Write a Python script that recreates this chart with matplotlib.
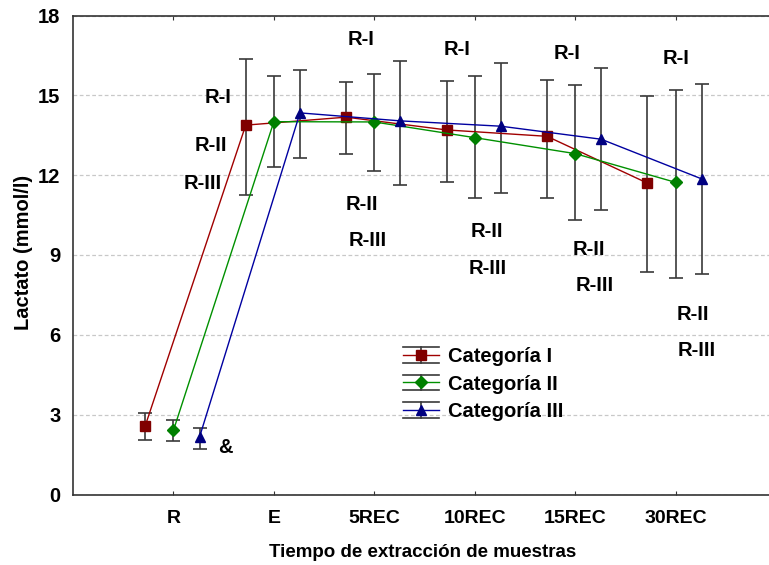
import matplotlib
matplotlib.use("Agg")
import matplotlib.pyplot as plt
import numpy as np
from matplotlib.lines import Line2D
from matplotlib.legend_handler import HandlerBase

plt.rcParams['font.family'] = ['Liberation Sans', 'DejaVu Sans']
plt.rcParams['font.weight'] = 'bold'

categories = ["R", "E", "5REC", "10REC", "15REC", "30REC"]
series_names = ["Categoría I", "Categoría II", "Categoría III"]

cat1_mean = [2.59, 13.88, 14.18, 13.70, 13.46, 11.70]
cat1_low = [2.06, 11.24, 12.78, 11.76, 11.16, 8.35]
cat1_high = [3.08, 16.37, 15.50, 15.53, 15.57, 14.98]

cat2_mean = [2.41, 14.01, 14.00, 13.41, 12.81, 11.73]
cat2_low = [2.02, 12.31, 12.16, 11.14, 10.32, 8.15]
cat2_high = [2.80, 15.71, 15.79, 15.74, 15.39, 15.20]

cat3_mean = [2.16, 14.34, 14.04, 13.84, 13.35, 11.86]
cat3_low = [1.71, 12.63, 11.63, 11.33, 10.70, 8.30]
cat3_high = [2.50, 15.94, 16.30, 16.21, 16.01, 15.42]

# annotation texts (label, x, y in data coords)
annot_text = ["R-I", "R-II", "R-III",
              "R-I", "R-II", "R-III",
              "R-I", "R-II", "R-III",
              "R-I", "R-II", "R-III",
              "R-I", "R-II", "R-III", "&"]
annot_x = [1.44, 1.37, 1.29,
           2.87, 2.88, 2.93,
           3.82, 4.12, 4.13,
           4.92, 5.14, 5.19,
           6.00, 6.17, 6.21, 1.52]
annot_y = [14.9, 13.1, 11.7,
           17.08, 10.88, 9.56,
           16.74, 9.9, 8.51,
           16.59, 9.19, 7.87,
           16.37, 6.78, 5.43, 1.75]

offsets = [-0.28, 0.0, 0.26]
markers = ['s', 'D', '^']
line_colors = ['#a00000', '#009000', '#0000a0']
marker_colors = ['#800000', '#008000', '#000080']
marker_sizes = [7, 6.5, 7.5]
err_color = '#3a3a3a'

W, H = 769, 565
fig = plt.figure(figsize=(W / 100, H / 100), dpi=100)
ax = fig.add_axes([73 / W, 1 - 494.5 / H, 703 / W, (494.5 - 15.5) / H])

x = np.arange(1, len(categories) + 1)
means = [cat1_mean, cat2_mean, cat3_mean]
lows = [cat1_low, cat2_low, cat3_low]
highs = [cat1_high, cat2_high, cat3_high]

handles = []
for i in range(3):
    m = np.array(means[i]); lo = np.array(lows[i]); hi = np.array(highs[i])
    yerr = np.vstack([m - lo, hi - m])
    ax.errorbar(x + offsets[i], m, yerr=yerr, fmt='none', ecolor=err_color,
                elinewidth=1.2, capsize=5, capthick=1.2, zorder=3)
    ln, = ax.plot(x + offsets[i], m, color=line_colors[i], lw=1.0,
                  marker=markers[i], ms=marker_sizes[i], mfc=marker_colors[i],
                  mec=marker_colors[i], zorder=4, label=series_names[i])
    handles.append(ln)

for t, tx, ty in zip(annot_text, annot_x, annot_y):
    ax.text(tx, ty, t, ha='center', va='center', fontsize=14.5, fontweight='bold')

ax.set_xlim(0, 7)
ax.set_ylim(0, 18)
ax.set_xticks(x)
ax.set_xticklabels(categories)
ax.set_yticks([0, 3, 6, 9, 12, 15, 18])
ax.tick_params(axis='x', direction='in', length=3, top=True, pad=11,
               labelsize=14, color='#333333')
ax.tick_params(axis='y', direction='in', length=0, pad=9, labelsize=14.5)
for lab in ax.get_xticklabels() + ax.get_yticklabels():
    lab.set_fontweight('bold')

ax.yaxis.grid(True, linestyle=(0, (3, 2)), color='#c8c8c8', lw=0.9)
ax.set_axisbelow(True)
ax.spines['right'].set_visible(False)
for s in ['left', 'bottom', 'top']:
    ax.spines[s].set_color('#333333')
    ax.spines[s].set_linewidth(1.2)

ax.set_ylabel("Lactato (mmol/l)", fontsize=14.5, fontweight='bold')
ax.yaxis.set_label_coords(-(73 - 33) / 703, 0.505)
ax.set_xlabel("Tiempo de extracción de muestras", fontsize=13.5, fontweight='bold')
ax.xaxis.set_label_coords((423 - 73) / 703, -(544 - 494.5) / 479)


class ErrHandler(HandlerBase):
    def create_artists(self, legend, orig_handle, xdescent, ydescent, width,
                       height, fontsize, trans):
        x0 = -xdescent
        x1 = width - xdescent
        cy = height / 2 - ydescent
        xm = (x0 + x1) / 2
        d = 5.5
        arts = [Line2D([x0, x1], [cy, cy], color=orig_handle.get_color(), lw=1.0),
                Line2D([xm, xm], [cy - d, cy + d], color=err_color, lw=1.2),
                Line2D([x0, x1], [cy - d, cy - d], color=err_color, lw=1.2),
                Line2D([x0, x1], [cy + d, cy + d], color=err_color, lw=1.2),
                Line2D([xm], [cy], marker=orig_handle.get_marker(),
                       ms=orig_handle.get_markersize(),
                       mfc=orig_handle.get_markerfacecolor(),
                       mec=orig_handle.get_markeredgecolor(), ls='none')]
        for a in arts:
            a.set_transform(trans)
        return arts


leg = ax.legend(handles=handles, handler_map={Line2D: ErrHandler()},
                loc='center left', bbox_to_anchor=((403 - 73) / 703, (494.5 - 384) / 479),
                frameon=False, borderpad=0, borderaxespad=0, handlelength=1.79,
                handletextpad=0.45, labelspacing=0.42,
                prop={'size': 14.5, 'weight': 'bold'})

fig.savefig("out.png", dpi=100)
